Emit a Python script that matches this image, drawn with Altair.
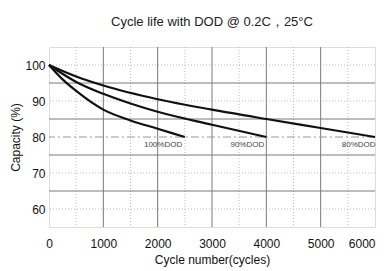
import altair as alt
import pandas as pd

# Data
cycles_100 = [0, 250, 500, 1000, 1500, 2000, 2500]
cap_100 = [100, 96.0, 92.8, 87.6, 84.6, 82.3, 80]
cycles_90 = [0, 500, 1000, 1500, 2000, 3000, 4000]
cap_90 = [100, 95.3, 92.0, 89.3, 87.0, 83.4, 80]
cycles_80 = [0, 500, 1000, 2000, 3000, 4000, 5000, 6000]
cap_80 = [100, 96.8, 94.3, 90.5, 87.6, 85.0, 82.5, 80]

label_text = ["100%DOD", "90%DOD", "80%DOD"]
label_x = [2100, 3650, 5700]
label_y = [77.9, 77.9, 77.9]

x_ticks = [0, 1000, 2000, 3000, 4000, 5000, 6000]
y_ticks = [60, 70, 80, 90, 100]
x_minor = [500, 1500, 2500, 3500, 4500, 5500]
y_major_grid = [65, 75, 85, 95]
y_minor_grid = [60, 70, 90, 100]
ref_level = [80]

FONT = "Liberation Sans"

rows = []
for name, xs, ys in [("100%DOD", cycles_100, cap_100), ("90%DOD", cycles_90, cap_90), ("80%DOD", cycles_80, cap_80)]:
    for a, b in zip(xs, ys):
        rows.append({"series": name, "cycles": a, "cap": b})
df = pd.DataFrame(rows)

xscale = alt.Scale(domain=[0, 6000], nice=False, zero=False)
yscale = alt.Scale(domain=[55, 105], nice=False, zero=False)

X = alt.X("cycles:Q", scale=xscale,
          axis=alt.Axis(values=x_ticks, grid=False, ticks=False, domain=False, format="d",
                        labelFlush=False,
                        labelAlign={"condition": {"test": "datum.value >= 6000", "value": "right"}, "value": "center"},
                        labelFont=FONT, labelFontSize=12, labelColor="#111", labelPadding=11,
                        title="Cycle number(cycles)", titleFont=FONT, titleFontSize=12,
                        titleFontWeight="normal", titleColor="#111", titlePadding=5))
Y = alt.Y("cap:Q", scale=yscale,
          axis=alt.Axis(values=y_ticks, grid=False, ticks=False, domain=False,
                        labelFlush=False,
                        labelFont=FONT, labelFontSize=12, labelColor="#111", labelPadding=4,
                        title="Capacity (%)", titleFont=FONT, titleFontSize=12,
                        titleFontWeight="normal", titleColor="#111", titlePadding=2))

vx_major = alt.Chart(pd.DataFrame({"v": x_ticks[1:-1]})).mark_rule(color="#7a7a7a", strokeWidth=1).encode(
    x=alt.X("v:Q", scale=xscale))
vx_minor = alt.Chart(pd.DataFrame({"v": x_minor})).mark_rule(color="#bbbbbb", strokeWidth=1, strokeDash=[1, 2]).encode(
    x=alt.X("v:Q", scale=xscale))
hy_major = alt.Chart(pd.DataFrame({"v": y_major_grid})).mark_rule(color="#7a7a7a", strokeWidth=1).encode(
    y=alt.Y("v:Q", scale=yscale))
hy_minor = alt.Chart(pd.DataFrame({"v": y_minor_grid})).mark_rule(color="#bbbbbb", strokeWidth=1, strokeDash=[1, 2]).encode(
    y=alt.Y("v:Q", scale=yscale))
ref = alt.Chart(pd.DataFrame({"v": ref_level})).mark_rule(color="#999999", strokeWidth=1.2, strokeDash=[8, 3, 2, 3]).encode(
    y=alt.Y("v:Q", scale=yscale))

lines = alt.Chart(df).mark_line(color="#111111", strokeWidth=2.2, interpolate="monotone").encode(
    x=X, y=Y, detail="series:N")

labels = alt.Chart(pd.DataFrame({"t": label_text, "x": label_x, "y": label_y})).mark_text(
    font=FONT, fontSize=8, color="#444444", align="center", baseline="middle").encode(
    x=alt.X("x:Q", scale=xscale), y=alt.Y("y:Q", scale=yscale), text="t:N")

chart = alt.layer(vx_minor, hy_minor, vx_major, hy_major, ref, lines, labels).properties(
    width=326, height=180,
    title=alt.TitleParams("Cycle life with DOD @ 0.2C，25°C", font=FONT, fontSize=13,
                          fontWeight="normal", color="#222", offset=18),
    autosize=alt.AutoSizeParams(type="none"),
    padding={"left": 41, "top": 39, "right": 5, "bottom": 40},
).configure_view(stroke="#7a7a7a", strokeWidth=1).configure(background="white")

chart.save("out.html", embed_options={"renderer": "svg", "actions": False})
